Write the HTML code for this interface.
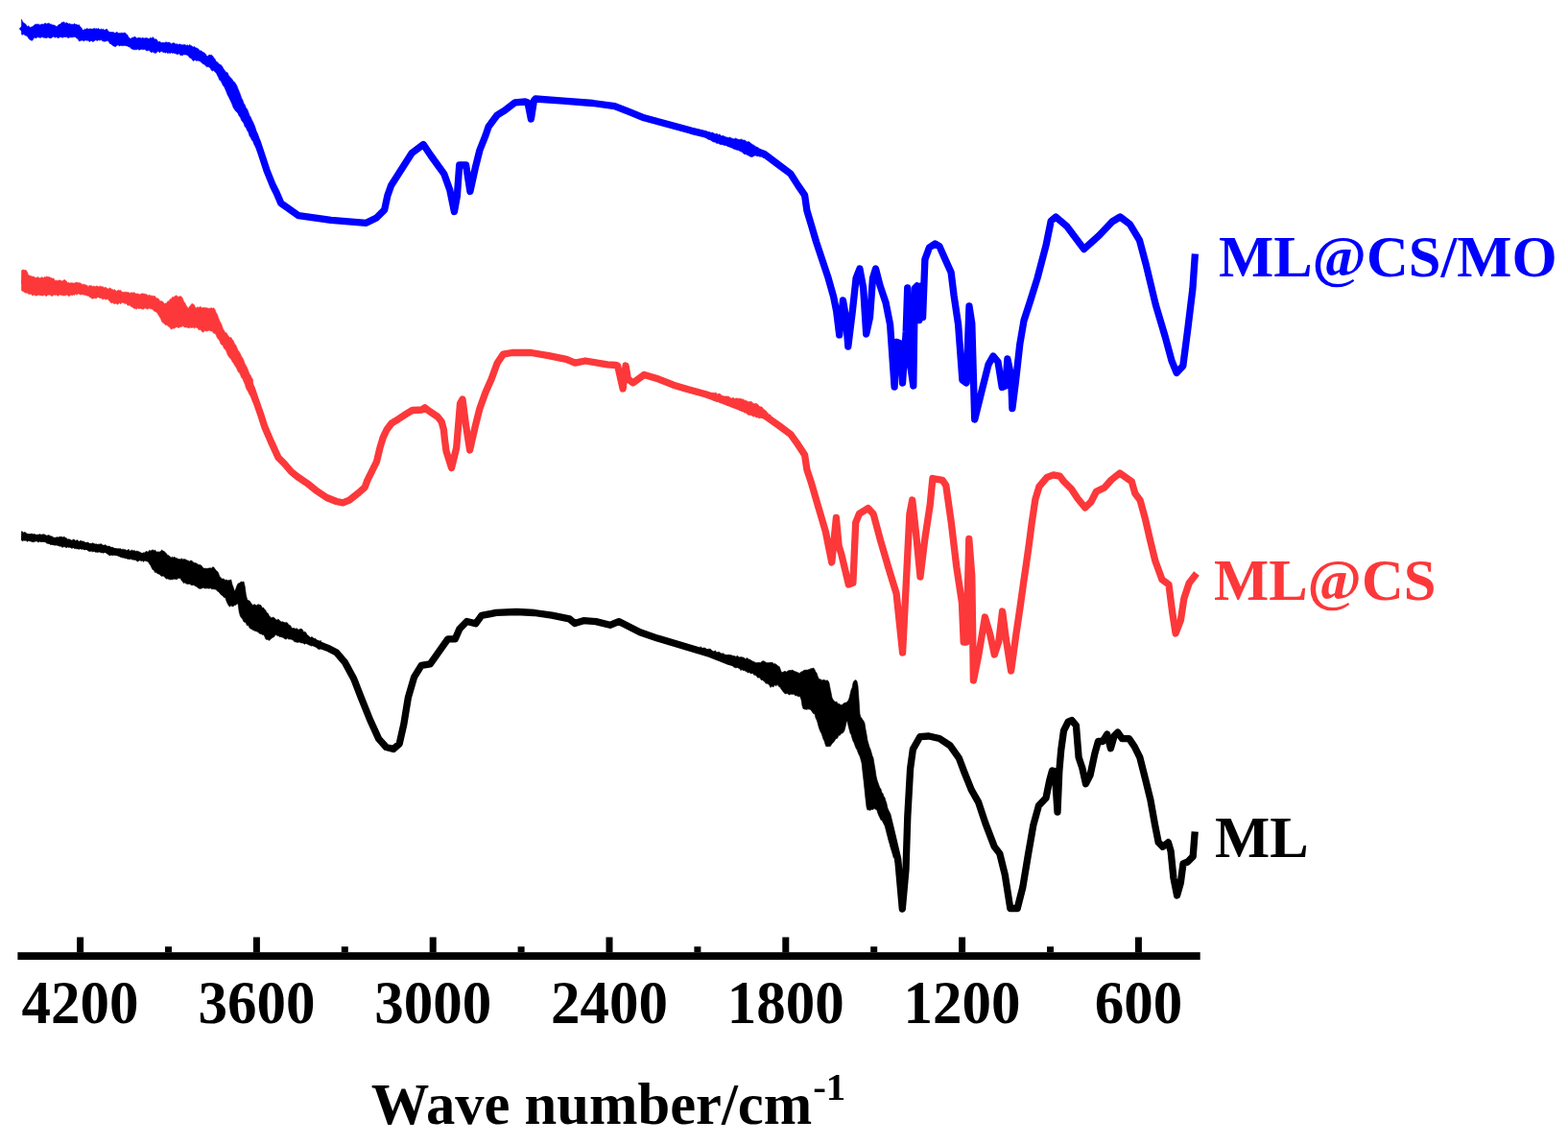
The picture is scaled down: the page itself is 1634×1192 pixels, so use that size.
<!DOCTYPE html>
<html><head><meta charset="utf-8"><title>FTIR spectra</title><style>
html,body{margin:0;padding:0;background:#fff;}
body{width:1634px;height:1192px;overflow:hidden;}
svg{display:block;}
.t{font-family:"Liberation Serif","Times New Roman",serif;font-weight:bold;font-size:60.6px;}
.d{font-size:61px;}
.s{font-size:41px;}
</style></head><body>
<svg width="1634" height="1192" viewBox="0 0 1634 1192">
<rect width="100%" height="100%" fill="#fff"/>
<polygon points="22.4,20.2 23.6,22.5 24.8,24.1 26.0,24.5 27.2,25.8 28.4,28.0 29.6,26.7 30.8,28.3 32.0,28.4 33.2,28.0 34.4,27.3 35.6,26.3 36.8,25.3 38.0,25.2 39.2,25.2 40.4,25.2 41.6,25.9 42.8,25.4 44.0,25.0 45.2,25.6 46.4,24.3 47.6,24.2 48.8,25.1 50.0,24.2 51.2,24.3 52.4,25.2 53.6,25.2 54.8,26.1 56.0,26.0 57.2,26.6 58.4,27.4 59.6,27.5 60.8,26.0 62.0,25.3 63.2,25.1 64.4,23.2 65.6,23.3 66.8,22.8 68.0,24.5 69.2,23.5 70.4,23.9 71.6,25.1 72.8,24.6 74.0,25.4 75.2,25.2 76.4,25.5 77.6,24.5 78.8,25.4 80.0,25.5 81.2,26.3 82.4,25.7 83.6,28.0 84.8,28.8 86.0,31.3 87.2,31.3 88.4,30.2 89.6,30.6 90.8,29.3 92.0,30.5 93.2,29.9 94.4,30.0 95.6,30.1 96.8,30.3 98.0,29.4 99.2,30.0 100.4,29.7 101.6,30.1 102.8,29.6 104.0,31.2 105.2,29.9 106.4,30.8 107.6,30.2 108.8,31.3 110.0,31.0 111.2,30.1 112.4,32.0 113.6,32.9 114.8,33.5 116.0,33.5 117.2,33.5 118.4,33.5 119.6,34.5 120.8,33.9 122.0,33.3 123.2,34.7 124.4,34.4 125.6,34.4 126.8,34.2 128.0,34.4 129.2,34.2 130.4,34.0 131.6,35.6 132.8,36.3 134.0,38.9 135.2,40.0 136.4,40.5 137.6,38.9 138.8,39.2 140.0,38.3 141.2,38.5 142.4,40.0 143.6,39.5 144.8,39.2 146.0,39.4 147.2,40.1 148.4,39.2 149.6,39.7 150.8,39.9 152.0,39.4 153.2,39.7 154.4,40.1 155.6,40.4 156.8,38.9 158.0,40.3 159.2,38.6 160.4,39.9 161.6,40.9 162.8,40.7 164.0,42.2 165.2,43.9 166.4,43.0 167.6,44.2 168.8,44.6 170.0,44.2 171.2,44.7 172.4,43.9 173.6,43.9 174.8,44.3 176.0,44.1 177.2,44.5 178.4,45.7 179.6,45.1 180.8,44.8 182.0,44.9 183.2,46.2 184.4,45.5 185.6,46.6 186.8,45.9 188.0,46.0 189.2,46.8 190.4,46.7 191.6,46.6 192.8,46.4 194.0,47.4 195.2,46.7 196.4,47.7 197.6,46.4 198.8,47.4 200.0,48.0 201.2,49.2 202.4,48.3 203.6,49.7 204.8,49.9 206.0,50.6 207.2,51.4 208.4,53.0 209.6,52.8 210.8,53.9 212.0,54.5 213.2,55.2 214.4,56.4 215.6,58.6 216.8,58.4 218.0,56.9 219.2,57.6 220.4,57.2 221.6,58.3 222.8,60.2 224.0,61.4 225.2,64.3 226.4,64.6 227.6,66.0 228.8,67.1 230.0,67.5 231.2,68.6 232.4,70.7 233.6,72.7 234.8,74.2 236.0,75.4 237.2,75.8 238.4,78.7 239.6,80.0 240.8,81.6 242.0,82.5 243.2,84.9 244.4,85.4 245.6,87.3 246.8,89.3 248.0,92.4 249.2,95.3 250.4,98.2 251.6,102.0 252.8,104.1 254.0,107.6 255.2,109.2 256.4,112.5 257.6,113.7 258.8,116.7 260.0,120.2 261.2,121.9 262.4,124.8 263.6,127.0 264.8,129.7 266.0,132.9 267.2,137.2 268.4,139.3 269.6,143.6 269.6,158.9 268.4,157.6 267.2,154.8 266.0,152.6 264.8,150.5 263.6,147.3 262.4,146.0 261.2,143.3 260.0,141.7 258.8,137.7 257.6,136.1 256.4,133.1 255.2,132.1 254.0,128.6 252.8,126.8 251.6,125.4 250.4,122.0 249.2,121.1 248.0,118.2 246.8,116.7 245.6,115.8 244.4,114.0 243.2,112.3 242.0,109.1 240.8,106.2 239.6,103.7 238.4,101.2 237.2,99.0 236.0,95.9 234.8,93.1 233.6,90.4 232.4,89.1 231.2,86.6 230.0,84.0 228.8,83.6 227.6,80.6 226.4,78.3 225.2,75.4 224.0,75.1 222.8,73.2 221.6,74.0 220.4,73.3 219.2,70.9 218.0,70.1 216.8,69.4 215.6,69.8 214.4,68.8 213.2,67.3 212.0,66.7 210.8,66.0 209.6,65.0 208.4,63.7 207.2,63.5 206.0,62.9 204.8,63.5 203.6,62.5 202.4,62.9 201.2,63.5 200.0,61.6 198.8,60.5 197.6,60.2 196.4,58.4 195.2,57.6 194.0,56.9 192.8,57.1 191.6,56.7 190.4,57.8 189.2,57.6 188.0,57.7 186.8,55.8 185.6,56.4 184.4,56.7 183.2,55.8 182.0,55.7 180.8,55.0 179.6,55.6 178.4,54.7 177.2,55.8 176.0,54.7 174.8,55.8 173.6,54.3 172.4,55.2 171.2,54.5 170.0,54.5 168.8,53.6 167.6,53.4 166.4,55.0 165.2,53.5 164.0,53.6 162.8,55.2 161.6,55.2 160.4,55.1 159.2,53.7 158.0,54.8 156.8,54.0 155.6,52.4 154.4,52.5 153.2,53.0 152.0,52.5 150.8,51.3 149.6,51.7 148.4,51.5 147.2,51.3 146.0,51.7 144.8,52.3 143.6,50.9 142.4,51.7 141.2,51.7 140.0,51.8 138.8,51.6 137.6,51.1 136.4,50.4 135.2,48.8 134.0,48.9 132.8,47.9 131.6,47.9 130.4,47.4 129.2,47.5 128.0,47.8 126.8,47.5 125.6,47.5 124.4,47.9 123.2,47.0 122.0,47.0 120.8,48.6 119.6,48.4 118.4,47.9 117.2,47.2 116.0,45.9 114.8,45.7 113.6,44.1 112.4,42.3 111.2,42.7 110.0,43.1 108.8,43.2 107.6,42.9 106.4,42.6 105.2,41.3 104.0,42.3 102.8,41.5 101.6,42.6 100.4,42.0 99.2,41.8 98.0,42.9 96.8,43.5 95.6,42.7 94.4,42.6 93.2,43.7 92.0,42.1 90.8,42.2 89.6,42.1 88.4,42.1 87.2,43.1 86.0,41.8 84.8,42.2 83.6,42.6 82.4,42.9 81.2,40.5 80.0,40.0 78.8,38.7 77.6,38.5 76.4,38.5 75.2,39.1 74.0,38.8 72.8,38.8 71.6,39.6 70.4,39.3 69.2,38.3 68.0,38.8 66.8,38.3 65.6,39.3 64.4,38.9 63.2,38.6 62.0,38.8 60.8,39.8 59.6,39.1 58.4,38.5 57.2,39.3 56.0,38.1 54.8,38.4 53.6,39.7 52.4,39.7 51.2,39.4 50.0,38.7 48.8,39.5 47.6,39.6 46.4,39.2 45.2,39.3 44.0,38.3 42.8,39.2 41.6,39.2 40.4,39.1 39.2,38.5 38.0,39.7 36.8,39.5 35.6,39.1 34.4,41.3 33.2,42.5 32.0,41.6 30.8,41.2 29.6,39.7 28.4,37.6 27.2,37.3 26.0,36.7 24.8,35.5 23.6,36.3 22.4,35.8" fill="#0000ff" stroke="#0000ff" stroke-width="0.6"/>
<polygon points="735.0,136.5 736.5,137.3 738.0,137.9 739.5,137.5 741.0,138.4 742.5,138.0 744.0,138.9 745.5,139.7 747.0,139.0 748.5,140.5 750.0,139.8 751.5,141.8 753.0,141.4 754.5,141.8 756.0,142.7 757.5,142.9 759.0,143.6 760.5,142.9 762.0,143.9 763.5,144.2 765.0,145.0 766.5,143.9 768.0,144.8 769.5,145.3 771.0,145.5 772.5,144.9 774.0,146.0 775.5,145.9 777.0,146.4 778.5,148.0 780.0,147.4 781.5,148.3 783.0,149.8 784.5,150.7 786.0,151.4 787.5,152.8 789.0,153.2 790.5,154.2 792.0,155.4 793.5,156.0 795.0,156.7 796.5,157.2 796.5,164.0 795.0,164.4 793.5,162.8 792.0,163.4 790.5,162.6 789.0,162.9 787.5,162.0 786.0,162.3 784.5,163.3 783.0,163.6 781.5,163.1 780.0,162.0 778.5,161.4 777.0,160.5 775.5,160.7 774.0,159.0 772.5,158.1 771.0,157.4 769.5,156.6 768.0,156.3 766.5,155.8 765.0,155.3 763.5,154.6 762.0,153.7 760.5,153.0 759.0,152.9 757.5,151.7 756.0,150.7 754.5,151.4 753.0,150.5 751.5,150.7 750.0,150.3 748.5,149.2 747.0,149.5 745.5,148.3 744.0,147.9 742.5,147.6 741.0,146.3 739.5,145.5 738.0,145.3 736.5,144.0 735.0,143.5" fill="#0000ff" stroke="#0000ff" stroke-width="0.6"/>
<polyline points="22.4,27.5 25.4,30.5 28.4,32.8 31.4,34.5 34.4,34.2 37.4,32.2 40.4,32.1 43.4,31.9 46.4,31.9 49.4,32.0 52.4,32.1 55.4,32.2 58.4,33.2 61.4,32.7 64.4,31.4 67.4,31.4 70.4,31.6 73.4,31.8 76.4,32.0 79.4,32.4 82.4,34.2 85.4,36.6 88.4,36.8 91.4,36.2 94.4,36.4 97.4,36.4 100.4,36.2 103.4,36.1 106.4,36.4 109.4,36.7 112.4,37.2 115.4,39.5 118.4,40.9 121.4,40.8 124.4,40.8 127.4,40.7 130.4,40.8 133.4,43.0 136.4,45.0 139.4,45.4 142.4,45.5 145.4,45.5 148.4,45.4 151.4,45.6 154.4,46.2 157.4,46.6 160.4,47.0 163.4,48.1 166.4,49.0 169.4,49.2 172.4,49.5 175.4,49.9 178.4,50.2 181.4,50.6 184.4,50.9 187.4,51.3 190.4,51.6 193.4,52.0 196.4,53.1 199.4,54.7 202.4,55.9 205.4,56.5 208.4,58.1 211.4,60.4 214.4,62.6 217.4,64.0 220.4,64.9 223.4,67.4 226.4,71.4 229.4,75.6 232.4,79.9 235.4,84.5 238.4,89.3 241.4,94.5 244.4,99.9 247.4,104.6 250.4,110.7 253.4,117.0 256.4,123.0 259.4,128.9 262.4,134.8 265.4,141.3 268.4,148.4 273.2,162.8 278.1,177.9 284.2,193.0 288.2,201.0 292.8,211.7 311.2,224.7 344.9,229.3 381.6,232.3 392.3,227.0 400.7,218.6 403.8,204.0 407.6,193.3 418.3,176.5 429.0,159.7 441.2,150.5 448.9,162.0 462.7,181.1 468.8,197.9 473.4,220.5 476.4,204.0 478.7,172.0 485.6,172.0 489.9,199.5 495.3,174.9 499.9,156.5 506.0,141.2 509.1,132.0 518.2,119.8 525.9,115.2 536.6,106.8 547.3,106.0 550.0,107.0 553.4,124.0 556.5,104.5 558.0,103.0 587.1,105.2 617.7,107.5 640.6,110.6 656.0,116.7 671.2,122.8 694.2,129.0 720.0,136.1 735.3,139.9 750.6,146.0 765.9,151.4 781.2,155.2 796.5,160.5 811.8,172.0 824.0,181.2 831.7,193.4 838.6,203.4 840.9,219.4 845.5,234.7 850.6,252.1 856.6,270.2 862.7,288.3 868.7,309.5 871.7,324.6 874.7,349.0 878.5,313.0 881.5,330.6 883.8,361.0 888.3,324.6 892.1,289.8 895.9,280.0 899.7,300.4 902.7,348.0 906.5,330.6 909.5,289.8 912.5,280.0 917.0,297.4 923.1,315.5 927.6,338.2 932.1,403.0 934.4,356.3 938.2,357.8 940.5,399.0 944.2,345.7 945.7,300.0 948.0,376.0 951.8,402.0 953.3,300.4 955.6,297.9 957.8,333.7 960.1,297.9 961.6,330.6 963.9,270.2 968.4,258.1 974.4,254.0 979.0,256.6 985.0,270.2 991.1,283.8 994.1,308.0 998.6,338.2 1002.9,396.0 1007.1,399.0 1010.0,319.0 1012.8,337.0 1015.7,437.0 1022.8,408.4 1030.0,379.9 1035.0,371.0 1040.0,377.0 1044.2,403.5 1047.8,402.1 1049.9,374.0 1053.5,391.3 1054.9,425.5 1058.5,397.0 1062.8,358.5 1067.0,334.0 1073.5,314.0 1081.0,290.0 1090.1,255.4 1095.2,230.2 1100.2,226.0 1112.0,236.1 1129.6,259.6 1145.5,245.3 1159.0,231.0 1167.3,226.0 1177.4,233.6 1187.5,250.4 1194.2,275.5 1204.3,317.5 1214.3,351.1 1221.1,376.2 1226.1,388.5 1232.8,381.3 1237.8,342.7 1242.9,300.7 1245.4,264.5" fill="none" stroke="#0000ff" stroke-width="7.3" stroke-linejoin="round" stroke-linecap="butt"/>
<polygon points="22.4,282.0 23.6,281.1 24.8,281.2 26.0,281.6 27.2,281.5 28.4,283.6 29.6,286.8 30.8,287.1 32.0,287.4 33.2,288.1 34.4,288.0 35.6,288.5 36.8,289.3 38.0,289.5 39.2,288.3 40.4,289.6 41.6,289.8 42.8,289.2 44.0,288.6 45.2,289.8 46.4,288.6 47.6,288.8 48.8,287.9 50.0,288.7 51.2,288.4 52.4,289.2 53.6,289.6 54.8,290.2 56.0,290.0 57.2,292.4 58.4,292.1 59.6,292.4 60.8,292.2 62.0,291.8 63.2,292.3 64.4,292.8 65.6,292.6 66.8,291.6 68.0,291.8 69.2,293.1 70.4,294.7 71.6,294.2 72.8,295.1 74.0,294.7 75.2,294.7 76.4,295.0 77.6,295.0 78.8,294.3 80.0,294.2 81.2,294.6 82.4,294.8 83.6,294.7 84.8,295.7 86.0,296.5 87.2,296.1 88.4,296.6 89.6,297.0 90.8,297.3 92.0,298.7 93.2,297.2 94.4,297.7 95.6,297.8 96.8,298.5 98.0,297.9 99.2,298.8 100.4,298.1 101.6,298.1 102.8,298.9 104.0,297.7 105.2,298.7 106.4,298.6 107.6,298.9 108.8,299.9 110.0,299.0 111.2,300.6 112.4,300.8 113.6,300.7 114.8,299.8 116.0,301.2 117.2,301.5 118.4,302.2 119.6,301.6 120.8,303.2 122.0,303.3 123.2,302.1 124.4,302.7 125.6,302.3 126.8,304.0 128.0,304.3 129.2,304.6 130.4,304.1 131.6,304.4 132.8,304.6 134.0,304.6 135.2,305.5 136.4,305.0 137.6,304.7 138.8,305.2 140.0,304.5 141.2,306.0 142.4,306.1 143.6,305.8 144.8,306.7 146.0,306.7 147.2,306.1 148.4,305.8 149.6,306.0 150.8,306.2 152.0,306.6 153.2,307.0 154.4,308.0 155.6,306.9 156.8,308.2 158.0,307.9 159.2,308.4 160.4,308.4 161.6,308.6 162.8,310.8 164.0,310.7 165.2,311.3 166.4,313.3 167.6,313.8 168.8,313.7 170.0,314.6 171.2,316.5 172.4,316.0 173.6,315.9 174.8,313.8 176.0,314.0 177.2,311.7 178.4,311.4 179.6,309.6 180.8,309.5 182.0,309.0 183.2,307.8 184.4,308.2 185.6,309.2 186.8,309.0 188.0,308.6 189.2,309.3 190.4,311.0 191.6,314.2 192.8,315.6 194.0,318.3 195.2,320.0 196.4,321.2 197.6,319.0 198.8,318.0 200.0,316.3 201.2,316.9 202.4,317.6 203.6,320.6 204.8,320.8 206.0,319.7 207.2,320.5 208.4,319.5 209.6,319.9 210.8,320.9 212.0,320.5 213.2,320.5 214.4,320.8 215.6,320.7 216.8,321.2 218.0,321.4 219.2,321.1 220.4,320.8 221.6,321.4 222.8,320.8 224.0,322.4 225.2,325.7 226.4,327.6 227.6,331.2 228.8,334.1 230.0,336.4 231.2,338.9 232.4,342.7 233.6,344.4 234.8,346.8 236.0,346.7 237.2,348.9 238.4,350.6 239.6,351.8 240.8,351.4 242.0,353.5 243.2,355.0 244.4,358.1 245.6,359.2 246.8,362.0 248.0,365.0 249.2,366.4 250.4,368.4 251.6,371.3 252.8,372.9 254.0,375.4 255.2,379.0 256.4,380.9 257.6,383.2 258.8,386.4 260.0,389.5 261.2,391.2 262.4,393.8 263.6,395.6 263.6,419.3 262.4,416.0 261.2,413.0 260.0,411.3 258.8,408.8 257.6,406.6 256.4,404.4 255.2,400.3 254.0,397.7 252.8,394.6 251.6,393.6 250.4,390.3 249.2,388.3 248.0,387.2 246.8,384.3 245.6,382.2 244.4,380.5 243.2,378.2 242.0,376.7 240.8,374.3 239.6,373.2 238.4,371.7 237.2,369.8 236.0,366.5 234.8,364.1 233.6,363.4 232.4,360.6 231.2,359.3 230.0,358.4 228.8,355.1 227.6,353.4 226.4,351.9 225.2,349.3 224.0,347.3 222.8,347.4 221.6,345.8 220.4,345.0 219.2,344.9 218.0,344.1 216.8,344.8 215.6,344.9 214.4,345.1 213.2,344.5 212.0,346.3 210.8,345.7 209.6,344.4 208.4,343.2 207.2,343.9 206.0,341.9 204.8,341.4 203.6,341.0 202.4,342.3 201.2,340.7 200.0,341.9 198.8,340.9 197.6,341.7 196.4,341.7 195.2,341.2 194.0,341.0 192.8,341.1 191.6,340.4 190.4,339.4 189.2,340.7 188.0,340.4 186.8,341.4 185.6,341.5 184.4,340.7 183.2,341.1 182.0,342.3 180.8,342.0 179.6,342.4 178.4,343.2 177.2,341.5 176.0,340.5 174.8,339.5 173.6,338.6 172.4,338.7 171.2,337.4 170.0,336.2 168.8,335.5 167.6,332.3 166.4,330.2 165.2,328.5 164.0,326.2 162.8,325.2 161.6,324.4 160.4,324.1 159.2,322.6 158.0,321.8 156.8,322.1 155.6,321.1 154.4,322.1 153.2,322.1 152.0,321.2 150.8,320.9 149.6,322.2 148.4,322.0 147.2,321.8 146.0,321.1 144.8,321.9 143.6,320.7 142.4,322.2 141.2,321.6 140.0,321.6 138.8,320.7 137.6,319.8 136.4,319.4 135.2,317.8 134.0,318.2 132.8,318.1 131.6,315.9 130.4,316.8 129.2,315.7 128.0,315.3 126.8,315.4 125.6,316.9 124.4,315.6 123.2,316.7 122.0,317.3 120.8,315.9 119.6,316.4 118.4,316.4 117.2,315.0 116.0,316.0 114.8,314.4 113.6,313.2 112.4,311.8 111.2,311.7 110.0,312.2 108.8,311.1 107.6,311.9 106.4,311.5 105.2,310.4 104.0,310.7 102.8,309.7 101.6,309.7 100.4,311.1 99.2,310.7 98.0,310.7 96.8,311.2 95.6,311.1 94.4,310.0 93.2,309.5 92.0,308.3 90.8,308.2 89.6,307.5 88.4,307.6 87.2,307.1 86.0,306.8 84.8,307.1 83.6,307.0 82.4,306.3 81.2,305.9 80.0,307.4 78.8,306.0 77.6,307.6 76.4,306.9 75.2,307.9 74.0,306.9 72.8,308.2 71.6,308.7 70.4,307.5 69.2,307.2 68.0,307.7 66.8,308.2 65.6,307.8 64.4,307.8 63.2,307.2 62.0,307.0 60.8,308.6 59.6,307.7 58.4,307.2 57.2,307.5 56.0,307.0 54.8,308.5 53.6,308.4 52.4,307.2 51.2,307.3 50.0,307.1 48.8,308.6 47.6,308.4 46.4,307.1 45.2,307.9 44.0,308.1 42.8,307.9 41.6,307.6 40.4,307.4 39.2,307.6 38.0,308.2 36.8,307.9 35.6,307.1 34.4,308.1 33.2,307.4 32.0,306.2 30.8,306.5 29.6,306.3 28.4,305.2 27.2,305.2 26.0,305.0 24.8,303.9 23.6,303.5 22.4,302.5" fill="#fc383a" stroke="#fc383a" stroke-width="0.6"/>
<polygon points="740.0,409.3 741.5,409.4 743.0,409.3 744.5,409.4 746.0,409.0 747.5,410.9 749.0,410.0 750.5,410.5 752.0,411.9 753.5,412.5 755.0,412.9 756.5,412.9 758.0,412.9 759.5,413.1 761.0,414.6 762.5,415.1 764.0,414.2 765.5,415.4 767.0,414.9 768.5,415.0 770.0,415.6 771.5,415.1 773.0,416.0 774.5,415.9 776.0,417.2 777.5,417.3 779.0,418.3 780.5,418.8 782.0,418.3 783.5,418.7 785.0,420.4 786.5,420.4 788.0,420.5 789.5,421.1 791.0,423.3 792.5,423.8 794.0,424.1 795.5,426.0 797.0,427.2 798.5,428.3 800.0,430.5 801.5,431.9 803.0,432.0 803.0,437.2 801.5,436.4 800.0,435.9 798.5,435.6 797.0,434.5 795.5,436.0 794.0,435.6 792.5,435.3 791.0,436.0 789.5,434.8 788.0,435.1 786.5,433.8 785.0,434.2 783.5,433.0 782.0,432.4 780.5,432.5 779.0,431.9 777.5,430.1 776.0,430.2 774.5,429.0 773.0,428.7 771.5,427.8 770.0,427.4 768.5,425.8 767.0,425.5 765.5,424.5 764.0,424.8 762.5,423.7 761.0,422.4 759.5,422.5 758.0,422.7 756.5,421.4 755.0,420.4 753.5,420.8 752.0,419.2 750.5,419.9 749.0,418.5 747.5,418.6 746.0,418.3 744.5,417.6 743.0,417.3 741.5,415.9 740.0,414.8" fill="#fc383a" stroke="#fc383a" stroke-width="0.6"/>
<polyline points="22.4,292.2 25.4,292.6 28.4,294.7 31.4,297.0 34.4,298.0 37.4,298.4 40.4,298.5 43.4,298.6 46.4,298.4 49.4,298.1 52.4,298.5 55.4,298.9 58.4,300.1 61.4,300.2 64.4,300.1 67.4,300.0 70.4,301.0 73.4,301.0 76.4,300.9 79.4,300.7 82.4,300.6 85.4,301.6 88.4,302.6 91.4,303.3 94.4,304.2 97.4,305.2 100.4,304.7 103.4,304.2 106.4,304.8 109.4,305.5 112.4,306.3 115.4,307.7 118.4,308.9 121.4,309.5 124.4,309.6 127.4,309.8 130.4,310.0 133.4,311.0 136.4,312.1 139.4,313.1 142.4,313.5 145.4,313.7 148.4,313.9 151.4,314.1 154.4,314.2 157.4,314.5 160.4,316.1 163.4,318.2 166.4,321.8 169.4,325.1 172.4,327.3 175.4,327.2 178.4,327.1 181.4,325.5 184.4,325.0 187.4,324.9 190.4,325.7 193.4,329.1 196.4,331.1 199.4,329.1 202.4,330.0 205.4,331.2 208.4,331.8 211.4,332.8 214.4,333.1 217.4,333.1 220.4,333.7 223.4,334.5 226.4,340.1 229.4,346.2 232.4,351.6 235.4,356.5 238.4,360.4 241.4,364.5 244.4,369.3 247.4,374.7 250.4,379.7 253.4,385.6 256.4,392.7 259.4,398.7 262.4,405.0 265.8,415.1 271.1,430.2 276.0,445.3 282.5,460.4 290.0,476.7 296.7,483.5 303.5,491.5 310.2,496.9 320.3,503.7 330.4,511.8 340.5,518.5 350.6,522.5 357.3,523.9 364.1,521.2 374.2,513.1 380.2,507.7 382.9,500.3 387.0,492.2 392.5,481.0 395.9,466.8 399.2,455.9 403.0,447.7 407.9,441.2 415.0,436.8 423.2,431.4 429.7,427.5 439.5,427.0 442.8,424.8 447.7,428.6 455.9,434.1 460.2,439.5 462.4,447.7 463.5,458.6 465.0,470.0 470.5,487.5 475.7,466.5 479.5,420.6 482.0,416.0 485.6,443.5 489.6,469.0 495.3,444.0 499.9,425.7 506.0,408.8 512.1,395.1 518.2,378.2 524.4,369.1 533.6,367.5 553.4,367.5 571.8,370.6 590.2,374.4 599.3,378.2 610.0,376.0 633.0,379.8 642.2,380.5 643.7,381.3 649.1,405.0 652.1,381.0 654.4,395.1 659.8,398.9 671.2,390.5 686.5,395.1 701.8,401.2 717.1,405.8 735.3,410.7 750.6,416.0 765.9,422.1 781.2,427.5 796.5,432.8 811.8,443.5 824.0,452.7 831.7,463.4 838.6,474.1 840.9,489.4 845.5,503.2 851.1,522.4 860.3,553.8 866.8,586.0 871.4,539.5 874.1,568.6 876.9,577.8 884.3,609.0 888.9,607.3 891.7,544.6 895.4,535.4 904.6,529.5 910.1,535.4 917.5,563.0 926.7,594.4 934.1,618.4 940.6,680.0 944.2,609.2 947.9,535.4 950.7,521.0 954.4,553.8 959.0,601.0 963.6,563.0 969.2,526.1 971.9,498.5 982.1,500.3 985.8,505.8 991.3,544.6 996.8,590.7 1002.4,627.6 1004.2,669.0 1007.0,669.0 1009.8,561.5 1012.8,600.4 1014.4,709.0 1019.6,683.5 1026.4,643.0 1031.7,660.8 1036.3,682.0 1040.8,668.4 1044.6,637.0 1048.3,665.4 1053.6,699.0 1058.9,660.8 1062.8,634.4 1066.5,608.0 1069.5,587.4 1072.5,566.0 1074.9,547.1 1078.9,520.3 1083.0,506.8 1091.0,497.4 1097.7,494.8 1104.4,496.1 1108.5,501.5 1116.5,509.5 1122.9,519.3 1130.8,529.0 1137.0,522.9 1142.3,512.3 1151.1,507.9 1158.1,500.0 1166.9,493.0 1179.3,501.7 1182.8,514.1 1188.1,521.1 1193.4,540.5 1198.7,563.4 1203.9,584.6 1211.0,603.9 1218.0,609.2 1221.6,637.4 1225.1,660.0 1230.4,646.2 1233.9,623.3 1239.2,607.5 1247.0,597.5" fill="none" stroke="#fc383a" stroke-width="7.3" stroke-linejoin="round" stroke-linecap="butt"/>
<polygon points="22.4,553.6 23.6,554.2 24.8,555.1 26.0,554.3 27.2,555.6 28.4,556.3 29.6,556.6 30.8,556.7 32.0,556.7 33.2,555.8 34.4,557.3 35.6,556.1 36.8,557.4 38.0,557.5 39.2,557.1 40.4,557.0 41.6,556.6 42.8,557.2 44.0,556.9 45.2,556.7 46.4,556.8 47.6,558.1 48.8,558.5 50.0,557.5 51.2,557.7 52.4,558.5 53.6,558.7 54.8,559.2 56.0,560.3 57.2,560.2 58.4,560.1 59.6,559.5 60.8,560.1 62.0,559.3 63.2,559.3 64.4,559.3 65.6,559.9 66.8,559.0 68.0,560.5 69.2,560.5 70.4,562.2 71.6,561.7 72.8,562.1 74.0,563.0 75.2,562.9 76.4,562.0 77.6,562.3 78.8,564.1 80.0,562.5 81.2,563.2 82.4,564.6 83.6,563.2 84.8,563.7 86.0,564.1 87.2,564.1 88.4,565.0 89.6,565.5 90.8,565.3 92.0,565.1 93.2,566.5 94.4,566.6 95.6,566.3 96.8,565.7 98.0,566.6 99.2,566.9 100.4,566.7 101.6,567.6 102.8,566.9 104.0,567.2 105.2,566.6 106.4,567.6 107.6,568.1 108.8,568.2 110.0,567.6 111.2,569.3 112.4,569.2 113.6,569.1 114.8,569.5 116.0,570.6 117.2,569.9 118.4,571.1 119.6,571.7 120.8,571.5 122.0,572.3 123.2,571.7 124.4,571.8 125.6,571.6 126.8,572.9 128.0,571.9 129.2,572.7 130.4,572.4 131.6,573.4 132.8,573.6 134.0,572.2 135.2,574.2 136.4,573.7 137.6,573.0 138.8,573.9 140.0,573.4 141.2,574.5 142.4,574.1 143.6,574.6 144.8,574.7 146.0,575.5 147.2,576.1 148.4,576.5 149.6,575.7 150.8,576.0 152.0,574.5 153.2,574.7 154.4,575.3 155.6,573.3 156.8,574.1 158.0,573.4 159.2,572.8 160.4,573.8 161.6,573.0 162.8,575.1 164.0,574.9 165.2,574.9 166.4,575.2 167.6,573.9 168.8,572.9 170.0,574.3 171.2,574.6 172.4,575.7 173.6,577.0 174.8,578.8 176.0,578.7 177.2,580.0 178.4,580.9 179.6,580.3 180.8,581.1 182.0,580.2 183.2,581.8 184.4,581.6 185.6,582.4 186.8,582.5 188.0,582.9 189.2,581.7 190.4,583.1 191.6,582.4 192.8,582.8 194.0,583.2 195.2,583.9 196.4,584.2 197.6,585.1 198.8,583.8 200.0,584.6 201.2,585.4 202.4,586.6 203.6,586.6 204.8,587.0 206.0,587.9 207.2,588.4 208.4,588.6 209.6,589.0 210.8,590.5 212.0,592.1 213.2,592.3 214.4,592.1 215.6,592.5 216.8,592.1 218.0,592.1 219.2,591.8 220.4,592.2 221.6,590.8 222.8,591.1 224.0,592.7 225.2,594.4 226.4,595.3 227.6,596.9 228.8,600.8 230.0,601.5 231.2,603.3 232.4,603.0 233.6,603.3 234.8,604.7 236.0,603.8 237.2,605.0 238.4,604.6 239.6,604.6 240.8,603.9 242.0,609.1 243.2,612.0 244.4,616.2 245.6,613.8 246.8,610.6 248.0,608.1 249.2,607.8 250.4,606.8 251.6,606.0 252.8,606.5 254.0,605.9 255.2,611.0 256.4,619.9 257.6,624.6 258.8,625.7 260.0,625.9 261.2,627.8 262.4,629.2 263.6,631.1 264.8,629.5 266.0,630.2 267.2,630.9 268.4,630.0 269.6,629.8 270.8,630.3 272.0,630.8 273.2,633.3 274.4,633.1 275.6,634.7 276.8,635.9 278.0,638.4 279.2,639.0 280.4,641.4 281.6,642.8 282.8,643.9 284.0,643.2 285.2,643.2 286.4,644.3 287.6,645.8 288.8,645.9 290.0,645.0 291.2,646.6 292.4,647.4 293.6,647.9 294.8,647.8 296.0,648.5 297.2,648.8 298.4,648.4 299.6,649.0 300.8,651.2 302.0,651.2 303.2,652.7 304.4,654.8 305.6,654.4 306.8,654.6 308.0,655.5 309.2,654.5 310.4,656.0 311.6,656.0 312.8,655.2 314.0,655.3 315.2,655.9 316.4,658.4 317.6,658.2 318.8,659.0 320.0,661.6 321.2,662.2 322.4,663.5 323.6,664.4 324.8,663.6 326.0,664.2 327.2,665.4 328.4,665.1 329.6,666.3 330.8,667.2 332.0,667.6 333.2,668.0 334.4,667.4 334.4,675.8 333.2,676.5 332.0,676.6 330.8,675.7 329.6,674.3 328.4,673.9 327.2,673.2 326.0,672.6 324.8,673.2 323.6,672.6 322.4,672.3 321.2,671.6 320.0,671.0 318.8,670.4 317.6,671.3 316.4,670.4 315.2,669.9 314.0,669.9 312.8,669.5 311.6,669.0 310.4,669.4 309.2,669.3 308.0,668.7 306.8,668.8 305.6,667.1 304.4,666.7 303.2,666.1 302.0,666.0 300.8,666.1 299.6,665.0 298.4,665.9 297.2,665.9 296.0,665.0 294.8,664.2 293.6,663.9 292.4,663.4 291.2,663.6 290.0,662.2 288.8,662.6 287.6,661.0 286.4,662.4 285.2,664.0 284.0,664.2 282.8,665.5 281.6,666.3 280.4,667.6 279.2,666.2 278.0,666.6 276.8,665.8 275.6,662.7 274.4,661.3 273.2,661.4 272.0,660.2 270.8,660.5 269.6,659.1 268.4,658.6 267.2,657.8 266.0,657.4 264.8,657.1 263.6,656.4 262.4,655.7 261.2,655.1 260.0,654.2 258.8,651.6 257.6,652.0 256.4,649.5 255.2,648.2 254.0,647.9 252.8,645.2 251.6,643.8 250.4,642.1 249.2,637.8 248.0,628.8 246.8,629.5 245.6,630.6 244.4,630.6 243.2,631.8 242.0,631.9 240.8,630.7 239.6,632.2 238.4,631.2 237.2,629.0 236.0,626.5 234.8,622.7 233.6,622.7 232.4,621.2 231.2,620.2 230.0,619.5 228.8,617.7 227.6,616.6 226.4,615.9 225.2,614.2 224.0,614.1 222.8,613.8 221.6,613.8 220.4,613.7 219.2,612.7 218.0,613.3 216.8,613.0 215.6,613.0 214.4,613.0 213.2,613.2 212.0,612.0 210.8,612.9 209.6,613.2 208.4,613.4 207.2,613.1 206.0,612.5 204.8,611.0 203.6,611.0 202.4,609.8 201.2,609.5 200.0,610.1 198.8,609.2 197.6,608.4 196.4,608.6 195.2,608.6 194.0,608.2 192.8,607.1 191.6,607.8 190.4,606.0 189.2,605.0 188.0,602.4 186.8,602.4 185.6,602.5 184.4,603.8 183.2,603.5 182.0,603.3 180.8,603.3 179.6,603.9 178.4,603.8 177.2,604.0 176.0,603.6 174.8,602.9 173.6,603.2 172.4,602.3 171.2,600.8 170.0,599.9 168.8,600.4 167.6,599.9 166.4,598.4 165.2,598.0 164.0,597.7 162.8,596.3 161.6,596.6 160.4,594.2 159.2,593.7 158.0,591.5 156.8,589.0 155.6,587.4 154.4,585.3 153.2,585.0 152.0,584.6 150.8,584.1 149.6,585.5 148.4,584.0 147.2,584.8 146.0,583.8 144.8,584.2 143.6,585.1 142.4,584.6 141.2,583.3 140.0,583.6 138.8,583.0 137.6,583.3 136.4,582.1 135.2,582.9 134.0,582.4 132.8,582.4 131.6,581.7 130.4,582.0 129.2,581.1 128.0,581.2 126.8,580.8 125.6,580.5 124.4,579.8 123.2,579.3 122.0,578.6 120.8,578.3 119.6,578.7 118.4,578.0 117.2,579.1 116.0,577.9 114.8,578.9 113.6,578.5 112.4,577.5 111.2,576.8 110.0,575.5 108.8,575.7 107.6,576.3 106.4,575.7 105.2,576.0 104.0,575.0 102.8,575.3 101.6,575.5 100.4,575.3 99.2,575.3 98.0,574.2 96.8,575.1 95.6,574.3 94.4,574.6 93.2,574.5 92.0,574.1 90.8,572.4 89.6,572.3 88.4,572.9 87.2,572.4 86.0,571.8 84.8,572.4 83.6,571.6 82.4,572.4 81.2,571.8 80.0,571.9 78.8,571.5 77.6,571.8 76.4,570.2 75.2,571.5 74.0,570.8 72.8,570.3 71.6,570.4 70.4,569.9 69.2,570.8 68.0,570.1 66.8,569.5 65.6,570.3 64.4,570.1 63.2,569.0 62.0,569.2 60.8,568.4 59.6,568.3 58.4,568.1 57.2,568.2 56.0,567.8 54.8,567.6 53.6,567.4 52.4,567.5 51.2,566.4 50.0,566.3 48.8,566.2 47.6,565.0 46.4,564.6 45.2,564.4 44.0,563.9 42.8,564.9 41.6,563.5 40.4,565.1 39.2,564.6 38.0,563.4 36.8,563.9 35.6,564.5 34.4,564.8 33.2,564.4 32.0,564.0 30.8,563.7 29.6,563.2 28.4,564.5 27.2,562.8 26.0,563.6 24.8,562.8 23.6,564.1 22.4,562.8" fill="#000000" stroke="#000000" stroke-width="0.6"/>
<polygon points="730.0,673.6 731.0,674.9 732.0,675.4 733.0,675.1 734.0,675.0 735.0,675.3 736.0,676.1 737.0,676.8 738.0,676.2 739.0,676.2 740.0,676.2 741.0,676.7 742.0,678.3 743.0,678.2 744.0,679.2 745.0,677.8 746.0,678.6 747.0,679.7 748.0,679.8 749.0,679.0 750.0,679.9 751.0,680.6 752.0,681.0 753.0,680.9 754.0,680.7 755.0,682.4 756.0,681.8 757.0,682.6 758.0,682.5 759.0,682.0 760.0,682.5 761.0,682.4 762.0,682.7 763.0,682.9 764.0,683.4 765.0,683.4 766.0,683.6 767.0,684.6 768.0,683.3 769.0,683.6 770.0,685.0 771.0,684.7 772.0,684.7 773.0,684.5 774.0,685.2 775.0,684.9 776.0,686.3 777.0,686.5 778.0,685.9 779.0,685.6 780.0,687.5 781.0,686.7 782.0,687.6 783.0,688.3 784.0,688.8 785.0,689.4 786.0,689.3 787.0,690.5 788.0,690.4 789.0,690.4 790.0,690.6 791.0,690.1 792.0,690.6 793.0,690.5 794.0,689.0 795.0,688.8 796.0,688.9 797.0,689.2 798.0,690.3 799.0,690.5 800.0,690.7 801.0,690.5 802.0,690.6 803.0,690.1 804.0,690.5 805.0,690.1 806.0,692.0 807.0,691.5 808.0,691.7 809.0,692.6 810.0,693.1 811.0,694.4 812.0,694.3 813.0,696.7 814.0,699.8 815.0,700.7 816.0,700.1 817.0,699.9 818.0,699.1 819.0,700.2 820.0,699.8 821.0,699.2 822.0,698.5 823.0,698.4 824.0,698.6 825.0,698.4 826.0,698.0 827.0,699.0 828.0,699.5 829.0,699.7 830.0,700.2 831.0,700.6 832.0,701.0 833.0,701.7 834.0,700.8 835.0,699.7 836.0,700.1 837.0,699.0 838.0,698.3 839.0,698.2 840.0,698.1 841.0,698.2 842.0,697.9 843.0,697.5 844.0,697.4 845.0,696.3 846.0,697.1 847.0,696.1 848.0,696.2 849.0,697.8 850.0,700.1 851.0,701.3 852.0,704.3 853.0,706.4 854.0,708.3 855.0,707.4 856.0,708.6 857.0,709.2 858.0,708.1 859.0,708.6 860.0,708.9 861.0,709.2 862.0,708.7 863.0,709.4 864.0,711.5 865.0,716.9 866.0,721.6 867.0,726.8 868.0,728.8 869.0,730.3 870.0,731.0 871.0,731.6 872.0,731.1 873.0,733.3 874.0,733.3 875.0,733.4 876.0,734.4 877.0,734.7 878.0,734.1 879.0,733.0 880.0,732.5 881.0,732.0 882.0,732.2 883.0,731.0 884.0,729.7 885.0,727.2 886.0,723.0 887.0,718.8 888.0,716.7 889.0,711.6 890.0,709.4 891.0,709.0 892.0,708.5 893.0,710.0 894.0,714.6 895.0,728.3 896.0,743.8 897.0,747.6 898.0,748.2 899.0,750.1 900.0,751.3 901.0,753.4 902.0,759.8 903.0,765.1 904.0,771.3 905.0,774.8 906.0,778.2 907.0,780.6 908.0,783.8 909.0,787.5 910.0,789.6 911.0,795.7 912.0,801.4 913.0,808.4 914.0,812.7 915.0,815.6 916.0,818.4 917.0,821.0 918.0,822.3 919.0,825.7 920.0,826.7 921.0,829.8 922.0,831.0 923.0,834.4 924.0,837.3 925.0,843.5 926.0,849.1 927.0,851.7 928.0,854.0 929.0,857.5 930.0,860.0 931.0,862.6 932.0,867.8 933.0,871.9 934.0,876.6 935.0,881.3 935.0,903.9 934.0,900.6 933.0,898.4 932.0,894.4 931.0,893.2 930.0,889.5 929.0,886.3 928.0,883.1 927.0,879.2 926.0,875.9 925.0,871.9 924.0,868.2 923.0,864.1 922.0,860.6 921.0,858.6 920.0,856.7 919.0,854.5 918.0,854.6 917.0,852.3 916.0,850.3 915.0,847.9 914.0,844.7 913.0,842.9 912.0,843.4 911.0,842.1 910.0,843.5 909.0,843.5 908.0,843.3 907.0,844.6 906.0,844.0 905.0,843.8 904.0,844.1 903.0,841.1 902.0,832.4 901.0,822.6 900.0,813.3 899.0,804.6 898.0,795.2 897.0,791.5 896.0,788.0 895.0,786.2 894.0,783.7 893.0,781.1 892.0,779.4 891.0,776.9 890.0,774.0 889.0,772.2 888.0,769.3 887.0,765.6 886.0,764.0 885.0,760.0 884.0,756.3 883.0,751.1 882.0,752.8 881.0,757.3 880.0,761.2 879.0,762.7 878.0,764.2 877.0,763.7 876.0,765.2 875.0,766.6 874.0,765.8 873.0,768.5 872.0,769.8 871.0,769.4 870.0,771.4 869.0,772.8 868.0,773.9 867.0,774.7 866.0,776.5 865.0,777.9 864.0,777.3 863.0,778.2 862.0,777.4 861.0,778.0 860.0,775.5 859.0,772.1 858.0,770.3 857.0,767.1 856.0,764.3 855.0,762.4 854.0,760.1 853.0,757.0 852.0,753.0 851.0,749.9 850.0,748.2 849.0,743.5 848.0,743.9 847.0,742.8 846.0,741.3 845.0,739.7 844.0,739.0 843.0,739.2 842.0,738.5 841.0,739.6 840.0,738.9 839.0,739.2 838.0,738.7 837.0,738.5 836.0,735.6 835.0,729.1 834.0,726.6 833.0,725.3 832.0,726.1 831.0,725.2 830.0,724.4 829.0,725.2 828.0,723.8 827.0,723.3 826.0,723.3 825.0,723.5 824.0,722.9 823.0,723.9 822.0,723.9 821.0,722.6 820.0,722.8 819.0,722.7 818.0,722.9 817.0,721.4 816.0,720.8 815.0,719.2 814.0,718.0 813.0,715.9 812.0,715.8 811.0,714.6 810.0,713.1 809.0,714.7 808.0,714.1 807.0,713.8 806.0,715.9 805.0,715.2 804.0,715.1 803.0,716.4 802.0,714.4 801.0,713.0 800.0,712.5 799.0,712.0 798.0,712.2 797.0,710.3 796.0,709.9 795.0,708.6 794.0,708.7 793.0,708.3 792.0,706.2 791.0,705.9 790.0,706.3 789.0,705.5 788.0,703.7 787.0,703.5 786.0,703.3 785.0,702.5 784.0,701.3 783.0,701.9 782.0,701.7 781.0,700.5 780.0,700.8 779.0,701.0 778.0,699.2 777.0,699.7 776.0,698.5 775.0,698.6 774.0,698.5 773.0,697.5 772.0,698.7 771.0,696.6 770.0,696.8 769.0,695.5 768.0,695.4 767.0,696.0 766.0,695.6 765.0,695.2 764.0,694.6 763.0,693.2 762.0,692.2 761.0,693.1 760.0,691.2 759.0,691.6 758.0,690.9 757.0,691.4 756.0,689.8 755.0,690.0 754.0,689.7 753.0,688.5 752.0,687.9 751.0,689.0 750.0,687.4 749.0,687.3 748.0,686.9 747.0,686.5 746.0,686.9 745.0,686.7 744.0,685.8 743.0,685.1 742.0,684.5 741.0,683.9 740.0,683.7 739.0,683.8 738.0,682.8 737.0,682.3 736.0,683.2 735.0,681.9 734.0,681.6 733.0,681.3 732.0,680.7 731.0,680.8 730.0,680.5" fill="#000000" stroke="#000000" stroke-width="0.6"/>
<polyline points="22.4,558.8 25.4,559.2 28.4,559.6 31.4,560.0 34.4,560.3 37.4,560.5 40.4,560.6 43.4,560.8 46.4,561.0 49.4,561.8 52.4,563.0 55.4,563.9 58.4,564.3 61.4,564.5 64.4,564.4 67.4,564.8 70.4,565.8 73.4,566.4 76.4,566.8 79.4,567.3 82.4,567.8 85.4,568.3 88.4,568.8 91.4,569.6 94.4,570.2 97.4,570.6 100.4,571.0 103.4,571.3 106.4,571.6 109.4,571.9 112.4,573.0 115.4,574.2 118.4,574.7 121.4,575.2 124.4,575.8 127.4,576.5 130.4,577.1 133.4,577.6 136.4,578.3 139.4,578.9 142.4,579.5 145.4,579.8 148.4,580.2 151.4,580.3 154.4,580.2 157.4,581.7 160.4,583.9 163.4,586.1 166.4,586.8 169.4,587.1 172.4,588.7 175.4,590.8 178.4,591.7 181.4,592.2 184.4,592.3 187.4,592.4 190.4,594.4 193.4,595.6 196.4,596.3 199.4,597.2 202.4,598.3 205.4,599.5 208.4,600.8 211.4,601.8 214.4,602.7 217.4,602.4 220.4,602.4 223.4,603.1 226.4,605.4 229.4,609.7 232.4,612.2 235.4,614.5 238.4,617.9 241.4,618.9 244.4,623.0 247.4,619.6 250.4,624.8 253.4,626.4 256.4,634.8 259.4,639.3 262.4,642.3 265.4,644.0 268.4,644.5 271.4,645.2 274.4,647.4 277.4,652.1 280.4,653.8 283.4,654.4 286.4,653.5 289.4,654.0 292.4,655.0 295.4,656.0 298.4,657.0 301.4,658.8 304.4,660.6 307.4,661.4 310.4,662.1 313.4,662.7 316.4,664.1 319.4,665.8 322.4,667.6 325.4,668.9 328.4,670.1 331.4,671.3 334.4,672.5 341.2,675.1 350.4,679.7 359.6,690.4 368.7,707.2 376.4,727.1 385.6,750.0 394.7,769.9 402.4,778.5 410.0,780.5 416.2,775.0 420.8,754.6 425.3,727.1 431.5,705.7 439.1,693.4 448.3,691.9 455.9,681.2 466.7,665.9 474.3,665.9 478.9,655.2 486.5,647.5 495.7,649.8 501.8,641.4 517.1,638.4 538.4,637.5 556.7,638.5 575.1,641.2 593.4,644.9 598.9,649.5 608.1,646.7 621.0,647.6 635.7,651.3 644.8,647.6 652.2,651.3 666.9,658.7 685.2,665.1 703.6,670.6 721.9,676.1 740.3,681.6 758.7,688.9 777.0,694.0 795.4,700.0 810.0,705.0 825.0,712.0 837.0,718.0 850.0,726.0 862.0,740.0 875.0,750.0 885.0,745.0 895.0,765.0 905.0,800.0 915.0,830.0 925.0,850.0 931.0,875.0 935.7,895.0 940.3,947.0 944.0,906.0 945.8,850.7 948.6,800.9 951.4,780.6 958.7,767.7 968.0,767.0 979.0,769.5 990.1,776.9 999.3,789.8 1004.9,804.6 1012.3,823.0 1019.6,835.9 1027.0,858.1 1036.2,882.1 1041.8,889.4 1047.3,911.6 1052.8,946.5 1060.2,946.5 1065.8,924.5 1071.3,891.3 1076.8,859.9 1082.4,839.6 1090.0,831.5 1093.7,813.1 1096.5,802.9 1099.2,803.8 1102.0,846.0 1103.8,803.8 1105.7,781.7 1108.5,761.4 1113.1,752.1 1116.8,750.5 1121.4,755.8 1124.1,789.1 1127.8,800.1 1131.5,816.7 1136.1,807.5 1140.8,785.4 1144.4,772.5 1149.1,772.5 1153.7,765.1 1157.4,779.8 1161.1,766.9 1164.8,763.2 1169.4,769.7 1176.7,769.7 1182.3,778.0 1187.8,789.1 1193.4,811.2 1198.9,833.4 1203.5,859.2 1207.2,877.7 1211.8,882.3 1217.4,877.7 1220.1,886.9 1222.9,914.6 1226.6,933.0 1230.3,920.1 1233.0,899.8 1237.7,898.0 1243.2,892.4 1245.2,866.5" fill="none" stroke="#000000" stroke-width="7.3" stroke-linejoin="round" stroke-linecap="butt"/>
<rect x="18.4" y="992.2" width="1232.3" height="7.9" fill="#000"/>
<rect x="80.1" y="976.5" width="7" height="16" fill="#000"/>
<rect x="263.9" y="976.5" width="7" height="16" fill="#000"/>
<rect x="447.7" y="976.5" width="7" height="16" fill="#000"/>
<rect x="631.5" y="976.5" width="7" height="16" fill="#000"/>
<rect x="815.3" y="976.5" width="7" height="16" fill="#000"/>
<rect x="999.1" y="976.5" width="7" height="16" fill="#000"/>
<rect x="1182.9" y="976.5" width="7" height="16" fill="#000"/>
<rect x="172.0" y="986.3" width="7" height="6" fill="#000"/>
<rect x="355.8" y="986.3" width="7" height="6" fill="#000"/>
<rect x="539.6" y="986.3" width="7" height="6" fill="#000"/>
<rect x="723.4" y="986.3" width="7" height="6" fill="#000"/>
<rect x="907.2" y="986.3" width="7" height="6" fill="#000"/>
<rect x="1091.0" y="986.3" width="7" height="6" fill="#000"/>
<text transform="translate(83.6,1065.5) scale(1,1.045)" text-anchor="middle" class="t d">4200</text>
<text transform="translate(267.4,1065.5) scale(1,1.045)" text-anchor="middle" class="t d">3600</text>
<text transform="translate(451.2,1065.5) scale(1,1.045)" text-anchor="middle" class="t d">3000</text>
<text transform="translate(635.0,1065.5) scale(1,1.045)" text-anchor="middle" class="t d">2400</text>
<text transform="translate(818.8,1065.5) scale(1,1.045)" text-anchor="middle" class="t d">1800</text>
<text transform="translate(1002.6,1065.5) scale(1,1.045)" text-anchor="middle" class="t d">1200</text>
<text transform="translate(1186.4,1065.5) scale(1,1.045)" text-anchor="middle" class="t d">600</text>
<text x="386.7" y="1171.4" class="t">Wave number/cm<tspan dx="1" dy="-25.4" class="s">-1</tspan></text>
<text x="1270" y="288.2" class="t" fill="#0000ff">ML@CS/MO</text>
<text x="1265" y="624.6" class="t" fill="#fc383a">ML@CS</text>
<text x="1266" y="893.1" class="t" fill="#000000">ML</text>
</svg>
</body></html>
